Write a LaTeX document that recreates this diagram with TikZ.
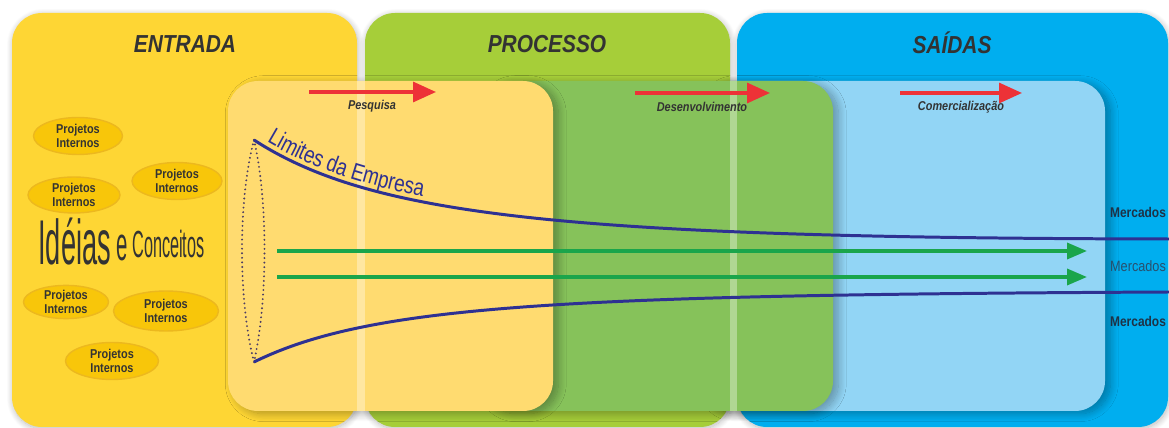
\documentclass[tikz,border=0pt]{standalone}
\usepackage{fontspec}
\setmainfont{Liberation Sans}
\newfontfamily\headfont[FakeStretch=0.85]{Liberation Sans}
\newfontfamily\narrowfont[FakeStretch=0.43]{Liberation Sans}
\newfontfamily\edgefont[FakeStretch=0.8]{Liberation Sans}
\usetikzlibrary{arrows.meta,shapes.geometric,shadows.blur,decorations.text}

\definecolor{entrada}{RGB}{254,214,52}
\definecolor{processo}{RGB}{166,206,57}
\definecolor{saidas}{RGB}{0,174,239}
\definecolor{pesqfill}{RGB}{255,219,112}
\definecolor{desenvfill}{RGB}{134,194,90}
\definecolor{comfill}{RGB}{146,213,245}
\definecolor{projfill}{RGB}{248,198,10}
\definecolor{projline}{RGB}{236,184,30}
\definecolor{limite}{RGB}{46,49,146}
\definecolor{lente}{RGB}{75,60,100}
\definecolor{fluxo}{RGB}{26,165,75}
\definecolor{etapa}{RGB}{237,50,55}
\definecolor{texto}{RGB}{51,51,51}
\definecolor{mercado}{RGB}{30,50,70}
\definecolor{mercadoclaro}{RGB}{40,80,110}

\begin{document}
\begin{tikzpicture}[x=0.02cm, y=-0.02cm,
    panel/.style={rounded corners=0.6cm, blur shadow={shadow xshift=0.5pt, shadow yshift=-1pt, shadow blur radius=3.5pt, shadow blur steps=15, shadow opacity=28}},
    inner panel/.style={rounded corners=0.6cm, blur shadow={shadow xshift=3pt, shadow yshift=-1.5pt, shadow blur radius=4.5pt, shadow blur steps=15, shadow opacity=32}},
    title/.style={font=\headfont\bfseries\itshape\fontsize{14}{14}\selectfont, text=texto, anchor=base, inner sep=0},
    projeto/.style={ellipse, fill=projfill, draw=projline, line width=0.8pt, align=center, inner sep=0,
        font=\headfont\bfseries\fontsize{7.3}{8}\selectfont, text=texto},
    etapaseta/.style={draw=etapa, line width=1.8pt, -{Triangle[length=4.6mm,width=4mm]}},
    etapalabel/.style={font=\headfont\bfseries\itshape\fontsize{7.3}{8}\selectfont, text=texto, anchor=base, inner sep=0},
    fluxoseta/.style={draw=fluxo, line width=2pt, -{Triangle[length=4mm,width=3.2mm]}},
    limiteline/.style={draw=limite, line width=1.7pt},
    lenteline/.style={draw=lente, line width=1.2pt, dash pattern=on 0pt off 2.6pt, line cap=round},
    mercado/.style={font=\headfont\bfseries\fontsize{8}{9}\selectfont, text=mercado, inner sep=0}]
    \useasboundingbox (0,0) rectangle (1169,428);

    %% outer panels
    \fill[entrada, panel] (12,13) rectangle (357,427);
    \fill[processo, panel] (365,13) rectangle (730,427);
    \fill[saidas, panel] (737,13) rectangle (1168,427);

    %% inner panels, back to front
    \fill[comfill, inner panel] (700,81) rectangle (1105,411);
    \fill[desenvfill, inner panel] (480,81) rectangle (833,411);
    \fill[pesqfill, inner panel] (228,81) rectangle (553,411);
    \fill[white, opacity=0.35] (357,81) rectangle (365,411);
    \fill[white, opacity=0.35] (730,81) rectangle (737,411);

    %% titles
    \node (entrada) [title] at (185,53) {ENTRADA};
    \node (processo) [title] at (547,53) {PROCESSO};
    \node (saidas) [title] at (952,54) {SAÍDAS};

    %% internal projects
    \node (projA) [projeto, minimum width=1.78cm, minimum height=0.74cm] at (78,136) {Projetos\\Internos};
    \node (projB) [projeto, minimum width=1.8cm, minimum height=0.74cm] at (177,181) {Projetos\\Internos};
    \node (projC) [projeto, minimum width=1.84cm, minimum height=0.72cm] at (74,195) {Projetos\\Internos};
    \node (projD) [projeto, minimum width=1.7cm, minimum height=0.62cm] at (66,302) {Projetos\\Internos};
    \node (projE) [projeto, minimum width=2.1cm, minimum height=0.8cm] at (166,311) {Projetos\\Internos};
    \node (projF) [projeto, minimum width=1.86cm, minimum height=0.74cm] at (112,361) {Projetos\\Internos};

    \node (ideias) [anchor=base west, inner sep=0, text=texto] at (38,265)
        {\narrowfont\fontsize{36}{36}\selectfont Idéias\raisebox{2.6pt}{\fontsize{27}{27}\selectfont\ e}\raisebox{4.2pt}{\fontsize{21.5}{21.5}\selectfont\ Conceitos}};

    %% stages
    \coordinate (pesqA) at (309,92);
    \coordinate (pesqB) at (436,92);
    \coordinate (desenvA) at (635,93);
    \coordinate (desenvB) at (770,93);
    \coordinate (comA) at (900,93);
    \coordinate (comB) at (1022,93);
    \draw[etapaseta] (pesqA) -- (pesqB);
    \draw[etapaseta] (desenvA) -- (desenvB);
    \draw[etapaseta] (comA) -- (comB);
    \node (pesquisa) [etapalabel] at (372,110) {Pesquisa};
    \node (desenv) [etapalabel] at (702,112) {Desenvolvimento};
    \node (comerc) [etapalabel] at (961,111) {Comercialização};

    %% company limits
    \coordinate (limA) at (254,140);
    \coordinate (limB) at (254,362);
    \coordinate (limAend) at (1169,239);
    \coordinate (limBend) at (1169,292);
    \draw[lenteline] (limA) .. controls (238,200) and (238,300) .. (limB);
    \draw[lenteline] (limA) .. controls (268,200) and (268,300) .. (limB);
    \draw[limiteline, postaction={decorate, decoration={text along path, raise=3pt,
        text align={left indent=0.24cm},
        text={|\edgefont\fontsize{13.5}{13.5}\selectfont\color{limite}|Limites da Empresa}}}]
        (limA) .. controls (370,215) and (560,238) .. (limAend);
    \draw[limiteline] (limB) .. controls (370,305) and (560,295) .. (limBend);

    %% flows to the markets
    \coordinate (fluxoA) at (277,251);
    \coordinate (fluxoAend) at (1087,251);
    \coordinate (fluxoB) at (277,277);
    \coordinate (fluxoBend) at (1087,277);
    \draw[fluxoseta] (fluxoA) -- (fluxoAend);
    \draw[fluxoseta] (fluxoB) -- (fluxoBend);

    %% markets
    \node (mercadoA) [mercado] at (1138,212) {Mercados};
    \node (mercadoB) [mercado, font=\headfont\fontsize{8.5}{9}\selectfont, text=mercadoclaro] at (1138,266) {Mercados};
    \node (mercadoC) [mercado] at (1138,321) {Mercados};
\end{tikzpicture}
\end{document}
